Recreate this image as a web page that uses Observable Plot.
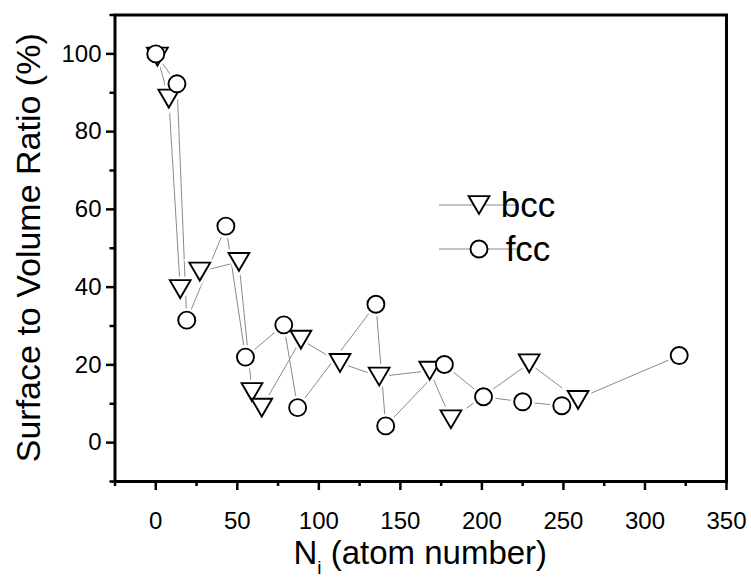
<!DOCTYPE html>
<html>
<head>
<meta charset="utf-8">
<script src="https://cdn.jsdelivr.net/npm/d3@7"></script>
<script src="https://cdn.jsdelivr.net/npm/@observablehq/plot@0.6"></script>
<style>
  html, body { margin: 0; padding: 0; background: #fff; }
  #chart { width: 751px; height: 580px; }
</style>
</head>
<body>
<div id="chart"></div>
<script>
// ---- data ----
const bccN = [1, 8, 15, 27, 51, 59, 65, 89, 113, 137, 168, 181, 229, 259];
const bccRatio = [99.3, 88.5, 39.5, 44, 46.5, 13, 9, 26.5, 20.5, 17, 18.5, 6, 20.4, 11];
const fccN = [0, 13, 19, 43, 55, 78.5, 87, 135, 141, 177, 201, 225, 249, 321];
const fccRatio = [100, 92.3, 31.5, 55.7, 22, 30.3, 9, 35.6, 4.3, 20.1, 11.8, 10.5, 9.5, 22.4];
const seriesNames = ["bcc", "fcc"];
const xMajor = [0, 50, 100, 150, 200, 250, 300, 350];
const xMinor = [-25, 25, 75, 125, 175, 225, 275, 325];
const yMajor = [0, 20, 40, 60, 80, 100];
const yMinor = [-10, 10, 30, 50, 70, 90, 110];
const xTitle = ["N", "i", " (atom number)"];
const yTitle = "Surface to Volume Ratio (%)";

const bcc = bccN.map((n, i) => ({n, r: bccRatio[i]}));
const fcc = fccN.map((n, i) => ({n, r: fccRatio[i]}));

// downward triangle symbol
const triDown = {
  draw(ctx, size) {
    const r = Math.sqrt(size / Math.PI);
    const w = r * 1.22, h = r * 1.05;
    ctx.moveTo(-w, -h); ctx.lineTo(w, -h); ctx.lineTo(0, h); ctx.closePath();
  }
};
const R = 8.5;
const lineColor = "#8a8a8a";
const font = "'Liberation Sans', Arial, sans-serif";

const plot = Plot.plot({
  width: 751, height: 580,
  marginLeft: 114.5, marginRight: 25, marginTop: 14.5, marginBottom: 99,
  x: {domain: [-25, 350]},
  y: {domain: [-10, 110]},
  style: {fontFamily: font, color: "black", background: "white", overflow: "visible"},
  marks: [
    Plot.line(bcc, {x: "n", y: "r", stroke: lineColor, strokeWidth: 1}),
    Plot.line(fcc, {x: "n", y: "r", stroke: lineColor, strokeWidth: 1}),
    Plot.dot(bcc, {x: "n", y: "r", symbol: triDown, r: R, fill: "white", stroke: "white", strokeWidth: 7}),
    Plot.dot(fcc, {x: "n", y: "r", symbol: "circle", r: R, fill: "white", stroke: "white", strokeWidth: 7}),
    Plot.dot(bcc, {x: "n", y: "r", symbol: triDown, r: R, fill: "white", stroke: "black", strokeWidth: 1.9}),
    Plot.dot(fcc, {x: "n", y: "r", symbol: "circle", r: R, fill: "white", stroke: "black", strokeWidth: 1.9}),
    Plot.frame({stroke: "black", strokeWidth: 3}),
    Plot.axisX({ticks: xMajor, tickSize: 9, tickPadding: 21, strokeWidth: 2.5, fontSize: 24, label: null, tickFormat: d => String(d)}),
    Plot.axisX({ticks: xMinor, tickSize: 5, strokeWidth: 2.5, text: null, label: null}),
    Plot.axisY({ticks: yMajor, tickSize: 8.5, tickPadding: 5, strokeWidth: 2.5, fontSize: 24, label: null, tickFormat: d => String(d)}),
    Plot.axisY({ticks: yMinor, tickSize: 5, strokeWidth: 2.5, text: null, label: null})
  ]
});
document.getElementById("chart").appendChild(plot);

const svg = d3.select(plot);
const xs = plot.scale("x"), ys = plot.scale("y");
const cx = (xs.range[0] + xs.range[1]) / 2;
const cy = (ys.range[0] + ys.range[1]) / 2;

// axis titles
svg.append("text")
  .attr("transform", `translate(40,${cy}) rotate(-90)`)
  .attr("text-anchor", "middle")
  .attr("font-family", font).attr("font-size", 34).attr("fill", "black")
  .text(yTitle);

const xt = svg.append("text")
  .attr("x", cx).attr("y", 564)
  .attr("text-anchor", "middle")
  .attr("font-family", font).attr("font-size", 33).attr("fill", "black");
xt.append("tspan").text(xTitle[0]);
xt.append("tspan").attr("font-size", 19).attr("dy", 10).text(xTitle[1]);
xt.append("tspan").attr("dy", -10).text(xTitle[2]);

// legend
const lg = svg.append("g");
const legendRows = [{name: seriesNames[0], y: 205, sym: triDown}, {name: seriesNames[1], y: 249, sym: d3.symbolCircle}];
for (const row of legendRows) {
  lg.append("line").attr("x1", 439).attr("x2", 519).attr("y1", row.y).attr("y2", row.y)
    .attr("stroke", lineColor).attr("stroke-width", 1);
  lg.append("path").attr("transform", `translate(479,${row.y})`)
    .attr("d", d3.symbol(row.sym, Math.PI * R * R)())
    .attr("fill", "white").attr("stroke", "black").attr("stroke-width", 1.9);
  lg.append("text").attr("x", 528).attr("y", row.y + 12)
    .attr("font-family", font).attr("font-size", 35).attr("fill", "black")
    .text(row.name);
}
</script>
</body>
</html>
